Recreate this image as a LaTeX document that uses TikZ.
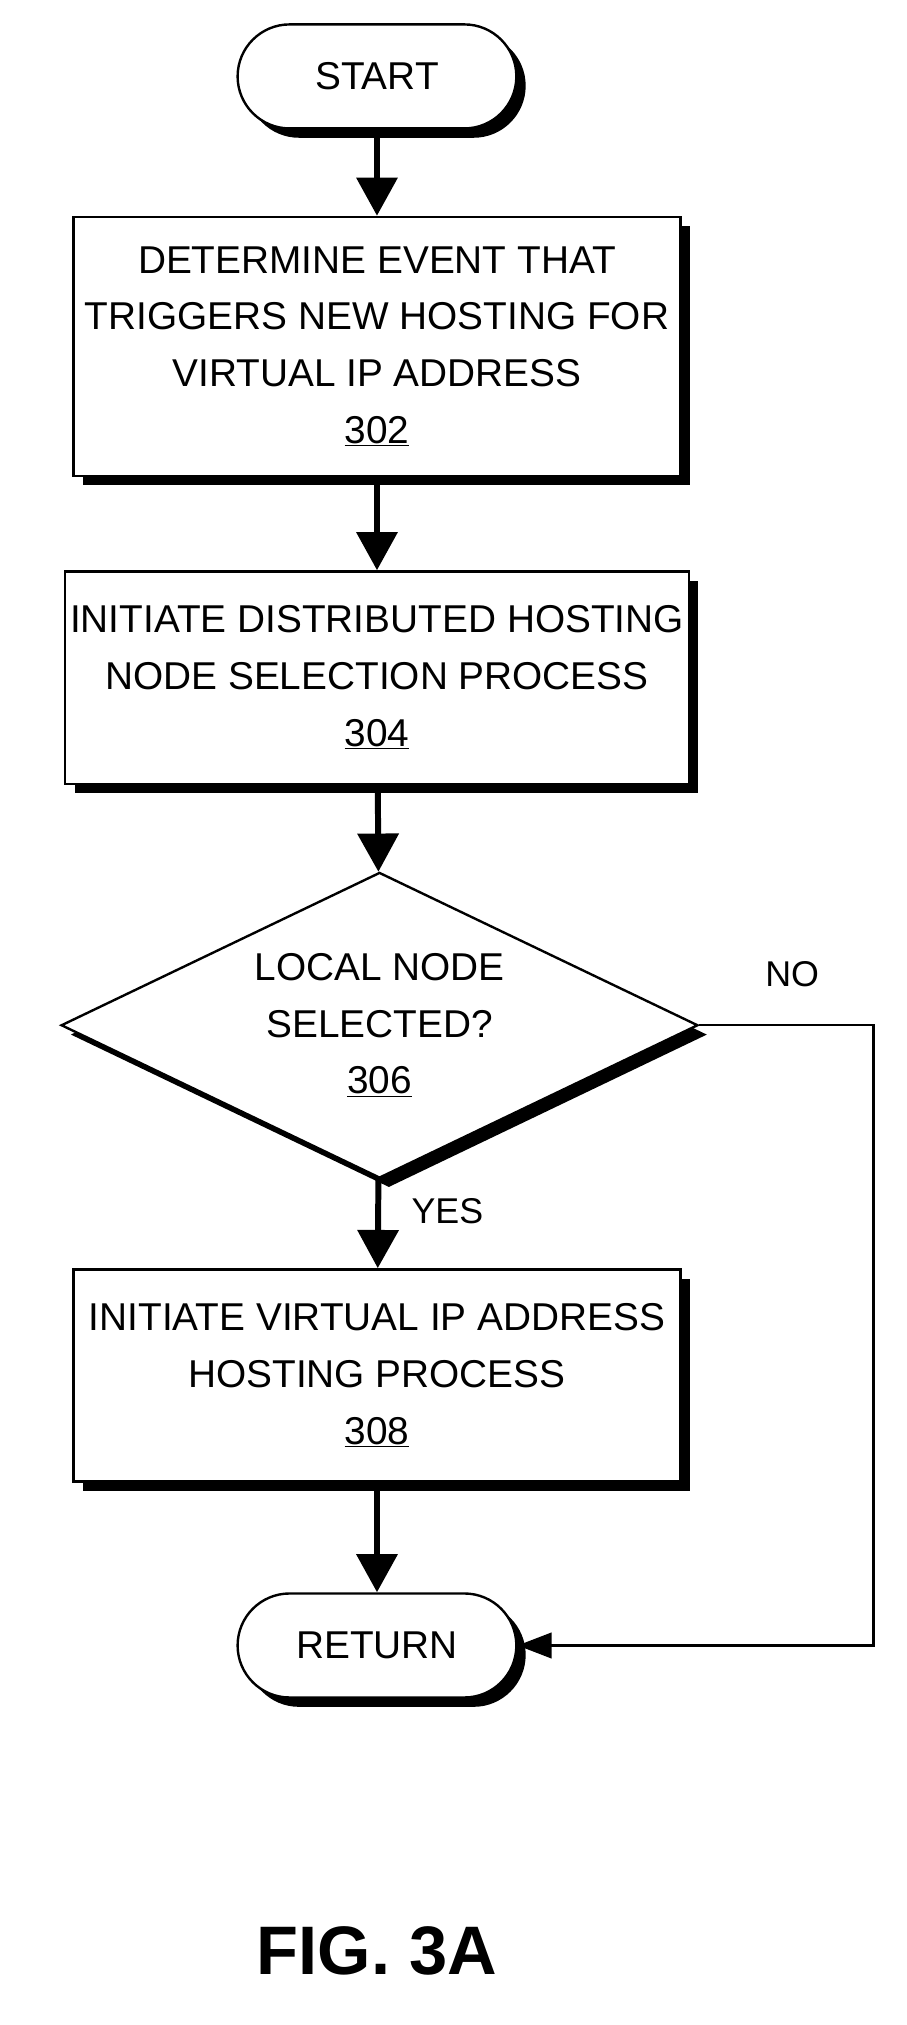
\documentclass[tikz,border=0pt]{standalone}
\usepackage{fontspec}
\setmainfont{Liberation Sans}
\usetikzlibrary{shapes.geometric,shapes.misc,shadows,arrows.meta}

\begin{document}
\begin{tikzpicture}[x=0.03cm,y=-0.03cm]
        \tikzstyle{every path}=[line width=1.6pt]
        \tikzstyle{shd}=[drop shadow={opacity=1,fill=black,shadow xshift=0.22cm,shadow yshift=-0.22cm}]
        \tikzstyle{proc}=[draw,fill=white,shd,rectangle,minimum width=14.3cm,minimum height=5cm,align=center,font=\fontsize{26}{38}\selectfont]
        \tikzstyle{term}=[draw,fill=white,shd,rounded rectangle,minimum width=6.8cm,minimum height=2.45cm,font=\fontsize{26}{38}\selectfont]
        \tikzstyle{test}=[draw,fill=white,shd,diamond,aspect=2.1,minimum width=15cm,minimum height=7.2cm,align=center,inner sep=0pt,font=\fontsize{26}{38}\selectfont]
        \tikzstyle{flow}=[-{Triangle[length=0.9cm,width=0.95cm]},line width=4pt]
        \tikzstyle{lbl}=[font=\fontsize{24}{30}\selectfont]

        \useasboundingbox (0,0) rectangle (712,1590);

        \node [term] (start) at (296,60) {START};
        \node [proc,minimum height=6.1cm] (s302) at (296,272)
            {DETERMINE EVENT THAT\\TRIGGERS NEW HOSTING FOR\\VIRTUAL IP ADDRESS\\\underline{302}};
        \node [proc] (s304) at (296,532)
            {INITIATE DISTRIBUTED HOSTING\\NODE SELECTION PROCESS\\\underline{304}};
        \node [test] (s306) at (298,805)
            {LOCAL NODE\\SELECTED?\\\underline{306}};
        \node [proc] (s308) at (296,1080)
            {INITIATE VIRTUAL IP ADDRESS\\HOSTING PROCESS\\\underline{308}};
        \node [term] (ret) at (296,1292) {RETURN};

        \draw [flow] (start) -- (s302);
        \draw [flow] (s302) -- (s304);
        \draw [flow] (s304) -- (s306);
        \draw [flow] (s306) -- node [lbl,right=0.6cm,yshift=0.3cm] {YES} (s308);
        \draw [flow] (s308) -- (ret);
        \draw [-{Triangle[length=0.8cm,width=0.6cm]},line width=1.6pt] (s306.east) -- (686,805) |- (ret.east);
        \node [lbl] (no) at (622,765) {NO};

        \node [font=\bfseries\fontsize{46}{50}\selectfont] (fig) at (296,1532) {FIG. 3A};
\end{tikzpicture}
\end{document}
